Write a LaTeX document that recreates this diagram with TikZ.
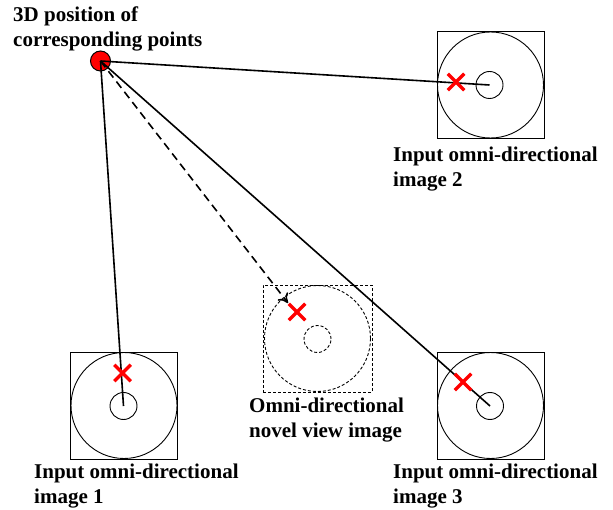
\documentclass[tikz,border=0pt]{standalone}
\usepackage{fontspec}
\setmainfont{Liberation Serif}
\usetikzlibrary{arrows.meta,shapes.misc}
\begin{document}
\begin{tikzpicture}[x=1pt,y=-1pt,
  frame/.style={draw, line width=0.9pt, minimum width=107pt, minimum height=107pt, inner sep=0pt},
  bigc/.style={circle, draw, line width=0.9pt, minimum size=106pt, inner sep=0pt},
  smallc/.style={circle, draw, line width=0.9pt, minimum size=27pt, inner sep=0pt},
  dsh/.style={dash pattern=on 3pt off 2pt},
  ray/.style={line width=1.6pt},
  xmk/.style={cross out, draw=red, line width=3.5pt, minimum size=13pt, inner sep=0pt},
  lbl/.style={font=\bfseries\fontsize{21}{25}\selectfont, align=left, anchor=base west, inner sep=0pt}]
\useasboundingbox (0,0) rectangle (613,510);
% image 2
\node[frame] (b2) at (490.5,85) {};
\node[bigc] (g2) at (490.5,85) {};
\node[smallc] (c2) at (489.5,85) {};
% image 1
\node[frame] (b1) at (124,405.5) {};
\node[bigc] (g1) at (124,405.5) {};
\node[smallc] (c1) at (123.5,406) {};
% image 3
\node[frame] (b3) at (490.5,405.5) {};
\node[bigc] (g3) at (490.5,405.5) {};
\node[smallc] (c3) at (490,406) {};
% novel view
\node[frame, dsh, minimum width=109pt] (bn) at (317.5,338.5) {};
\node[bigc, dsh] (gn) at (317.5,338.5) {};
\node[smallc, dsh] (cn) at (317.5,339) {};
\coordinate (tip) at (288,303);
% point
\node[circle, fill=red, draw=black, line width=1pt, minimum size=20pt, inner sep=0pt] (pt) at (100.5,61) {};
% rays
\draw[ray] (pt.center) -- (c2.center);
\draw[ray] (pt.center) -- (c1.center);
\draw[ray] (pt.center) -- (c3.center);
\draw[ray, dash pattern=on 8pt off 5pt, -{To[length=9pt,width=13pt]}] (pt.center) -- (tip);
% crosses
\node[xmk] (x2) at (456,82) {};
\node[xmk] (x1) at (122.5,373) {};
\node[xmk] (x3) at (463,382) {};
\node[xmk] (xn) at (297,312) {};
% labels
\node[lbl] (t0) at (13,47) {3D position of\\corresponding points};
\node[lbl] (t2) at (393,187) {Input omni-directional\\image 2};
\node[lbl] (t1) at (34,503) {Input omni-directional\\image 1};
\node[lbl] (t3) at (393,503) {Input omni-directional\\image 3};
\node[lbl] (tn) at (249,437) {Omni-directional\\novel view image};
\end{tikzpicture}
\end{document}
